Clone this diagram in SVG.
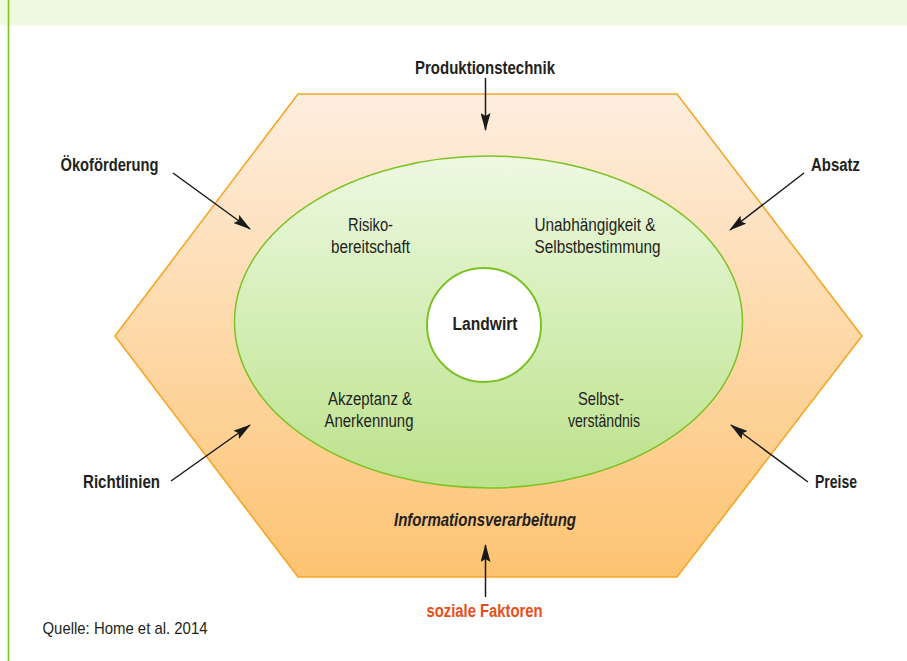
<svg xmlns="http://www.w3.org/2000/svg" width="907" height="661" viewBox="0 0 907 661">
  <defs>
    <linearGradient id="hexGrad" x1="0" y1="0" x2="0" y2="1">
      <stop offset="0" stop-color="#FEEEDF"/>
      <stop offset="1" stop-color="#FDC372"/>
    </linearGradient>
    <linearGradient id="ellGrad" x1="0" y1="0" x2="0" y2="1">
      <stop offset="0" stop-color="#EDF9E1"/>
      <stop offset="1" stop-color="#BCE28B"/>
    </linearGradient>
    <marker id="arrow" viewBox="0 0 18 10" refX="17" refY="5" markerWidth="18" markerHeight="10" markerUnits="userSpaceOnUse" orient="auto">
      <path d="M0,0 L18,5 L0,10 L3,5 z" fill="#1A1A1A"/>
    </marker>
    <style>
      .lbl { font-family: "Liberation Sans Narrow", "Liberation Sans", "DejaVu Sans Condensed", sans-serif; fill: #231F20; font-size: 18px; }
      .b { font-weight: bold; }
      .c { text-anchor: middle; }
      .conn { stroke: #1A1A1A; stroke-width: 1.5; fill: none; marker-end: url(#arrow); }
    </style>
  </defs>

  <!-- page frame -->
  <rect x="0" y="0" width="907" height="25.5" fill="#EEF9E0"/>
  <line x1="8.5" y1="0" x2="8.5" y2="661" stroke="#7DC31E" stroke-width="1.6"/>

  <!-- hexagon -->
  <g id="hexagon">
    <polygon points="298,94 677,94 862,336 677,577 298,577 115,336" fill="url(#hexGrad)" stroke="#F5A623" stroke-width="1.6"/>
    <text class="lbl b c" x="485" y="526" font-style="italic" textLength="182" lengthAdjust="spacingAndGlyphs">Informationsverarbeitung</text>
  </g>

  <!-- ellipse -->
  <g id="ellipse">
    <ellipse cx="488.5" cy="322" rx="254" ry="166" fill="url(#ellGrad)" stroke="#7CC225" stroke-width="1.5"/>
  </g>

  <g id="risiko">
    <text class="lbl c" x="370.5" y="231" textLength="45" lengthAdjust="spacingAndGlyphs">Risiko-</text>
    <text class="lbl c" x="370.5" y="253" textLength="79" lengthAdjust="spacingAndGlyphs">bereitschaft</text>
  </g>
  <g id="unabhaengigkeit">
    <text class="lbl" x="534.5" y="231" textLength="121" lengthAdjust="spacingAndGlyphs">Unabhängigkeit &amp;</text>
    <text class="lbl" x="534.5" y="253" textLength="126" lengthAdjust="spacingAndGlyphs">Selbstbestimmung</text>
  </g>
  <g id="akzeptanz">
    <text class="lbl c" x="370" y="405" textLength="84" lengthAdjust="spacingAndGlyphs">Akzeptanz &amp;</text>
    <text class="lbl c" x="369" y="427" textLength="89" lengthAdjust="spacingAndGlyphs">Anerkennung</text>
  </g>
  <g id="selbstverstaendnis">
    <text class="lbl c" x="601" y="405" textLength="46" lengthAdjust="spacingAndGlyphs">Selbst-</text>
    <text class="lbl c" x="604" y="427" textLength="72" lengthAdjust="spacingAndGlyphs">verständnis</text>
  </g>

  <!-- center -->
  <g id="landwirt">
    <circle cx="484" cy="325" r="57" fill="#FFFFFF" stroke="#7CC225" stroke-width="2"/>
    <text class="lbl b c" x="485" y="329.5" textLength="65" lengthAdjust="spacingAndGlyphs">Landwirt</text>
  </g>

  <!-- outer factors -->
  <g id="produktionstechnik">
    <text class="lbl b c" x="485" y="73.5" textLength="140" lengthAdjust="spacingAndGlyphs">Produktionstechnik</text>
  </g>
  <g id="oekofoerderung">
    <text class="lbl b" x="60.5" y="171" textLength="98" lengthAdjust="spacingAndGlyphs">Ökoförderung</text>
  </g>
  <g id="absatz">
    <text class="lbl b" x="811" y="171" textLength="49" lengthAdjust="spacingAndGlyphs">Absatz</text>
  </g>
  <g id="richtlinien">
    <text class="lbl b" x="83" y="488" textLength="77" lengthAdjust="spacingAndGlyphs">Richtlinien</text>
  </g>
  <g id="preise">
    <text class="lbl b" x="815" y="488" textLength="42" lengthAdjust="spacingAndGlyphs">Preise</text>
  </g>
  <g id="soziale-faktoren">
    <text class="lbl b c" x="484.5" y="617" fill="#E84E1B" style="fill:#E84E1B" textLength="116" lengthAdjust="spacingAndGlyphs">soziale Faktoren</text>
  </g>

  <!-- connectors -->
  <g id="connectors">
    <line class="conn" x1="485.5" y1="78" x2="485.5" y2="130"/>
    <line class="conn" x1="485.5" y1="597" x2="485.5" y2="545"/>
    <line class="conn" x1="173" y1="173" x2="250" y2="229"/>
    <line class="conn" x1="804" y1="173" x2="730" y2="230"/>
    <line class="conn" x1="171" y1="481" x2="250" y2="425"/>
    <line class="conn" x1="808" y1="482" x2="731" y2="425"/>
  </g>

  <text class="lbl" x="42.5" y="633.5" font-size="17" style="font-size:17px" textLength="165" lengthAdjust="spacingAndGlyphs">Quelle: Home et al. 2014</text>
</svg>
